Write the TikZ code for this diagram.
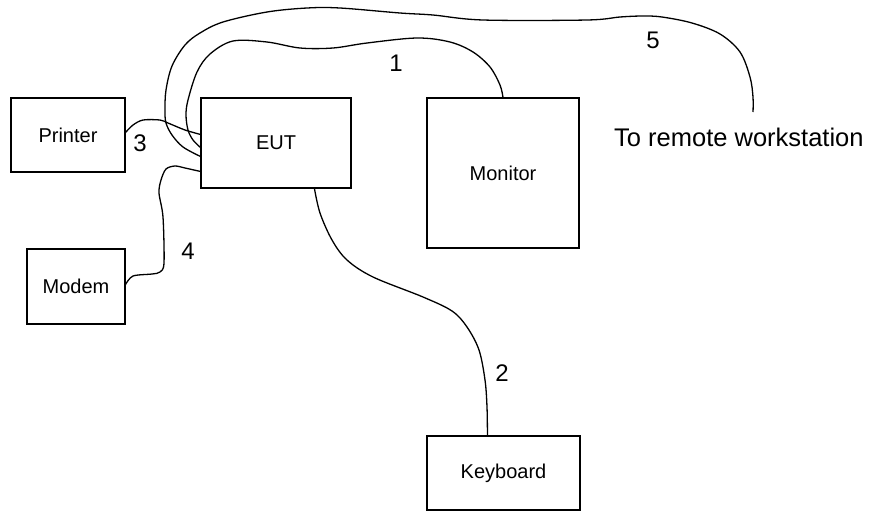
\documentclass[tikz,border=0pt]{standalone}
\usepackage{fontspec}
\setmainfont{Liberation Sans}
\usetikzlibrary{calc}
\begin{document}
\begin{tikzpicture}[x=1pt,y=-1pt,
  unit/.style={draw=black,line width=1.1pt,inner sep=0pt,font=\fontsize{20}{23}\selectfont},
  cable/.style={draw=black,line width=1.3pt},
  lbl/.style={inner sep=0pt,font=\fontsize{24}{27}\selectfont}]
\useasboundingbox (0,0) rectangle (875,512);
% units
\node[unit,minimum width=114pt,minimum height=74pt] (printer) at (68,135) {Printer};
\node[unit,minimum width=150pt,minimum height=90pt] (eut) at (276,143) {EUT};
\node[unit,minimum width=152pt,minimum height=150pt] (monitor) at (503,173) {Monitor};
\node[unit,minimum width=98pt,minimum height=75pt] (modem) at (76,286.5) {Modem};
\node[unit,minimum width=153pt,minimum height=74pt] (keyboard) at (503.5,473) {Keyboard};
% ports
\coordinate (e1) at ($(eut.north west)+(0,50)$);
\coordinate (e5) at ($(eut.north west)+(0,59)$);
\coordinate (e3) at ($(eut.north west)+(0,37)$);
\coordinate (e4) at ($(eut.north west)+(0,74)$);
\coordinate (e2) at ($(eut.south west)+(114,0)$);
\coordinate (p3) at ($(printer.north east)+(0,35)$);
\coordinate (m4) at ($(modem.north east)+(0,36)$);
\coordinate (k2) at ($(keyboard.north west)+(61,0)$);
\coordinate (remote) at (753,112);
% cable 1
\draw[cable] plot[smooth,tension=0.55] coordinates {(e1) (193,140) (188,130) (186,115) (188,100) (197,72) (210,54) (233,41) (267,42) (300,48) (333,48) (367,43) (417,38) (450,42) (473,52) (490,67) (500,85) (monitor.north)};
% cable 5
\draw[cable] plot[smooth,tension=0.55] coordinates {(e5) (183,147) (172,135) (166,123) (165,110) (166,90) (172,66) (185,45) (200,33) (223,22) (267,12) (307,8) (340,8) (400,13) (433,15) (483,20) (587,20) (620,17) (643,16) (662,17) (692,23) (720,34) (740,52) (750,77) (753,97) (remote)};
% cable 3
\draw[cable] plot[smooth,tension=0.5] coordinates {(p3) (133,125) (143,120) (160,120) (168,123) (185,130) (e3)};
% cable 4
\draw[cable] plot[smooth,tension=0.5] coordinates {(e4) (185,168) (175,166) (166,169) (161,180) (159,193) (163,217) (164,263) (160,272) (152,274) (133,276) (m4)};
% cable 2
\draw[cable] plot[smooth,tension=0.55] coordinates {(e2) (320,213) (332,240) (347,260) (373,277) (423,297) (452,311) (467,327) (479,350) (485,380) (487,407) (k2)};
% labels
\node[lbl] (l1) at (396,63) {1};
\node[lbl] (l5) at (653,40) {5};
\node[lbl] (l3) at (140,143) {3};
\node[lbl] (l4) at (188,251) {4};
\node[lbl] (l2) at (502,373) {2};
\node[lbl,anchor=west,font=\fontsize{25.5}{28}\selectfont] (rw) at (614,137) {To remote workstation};
\end{tikzpicture}
\end{document}
